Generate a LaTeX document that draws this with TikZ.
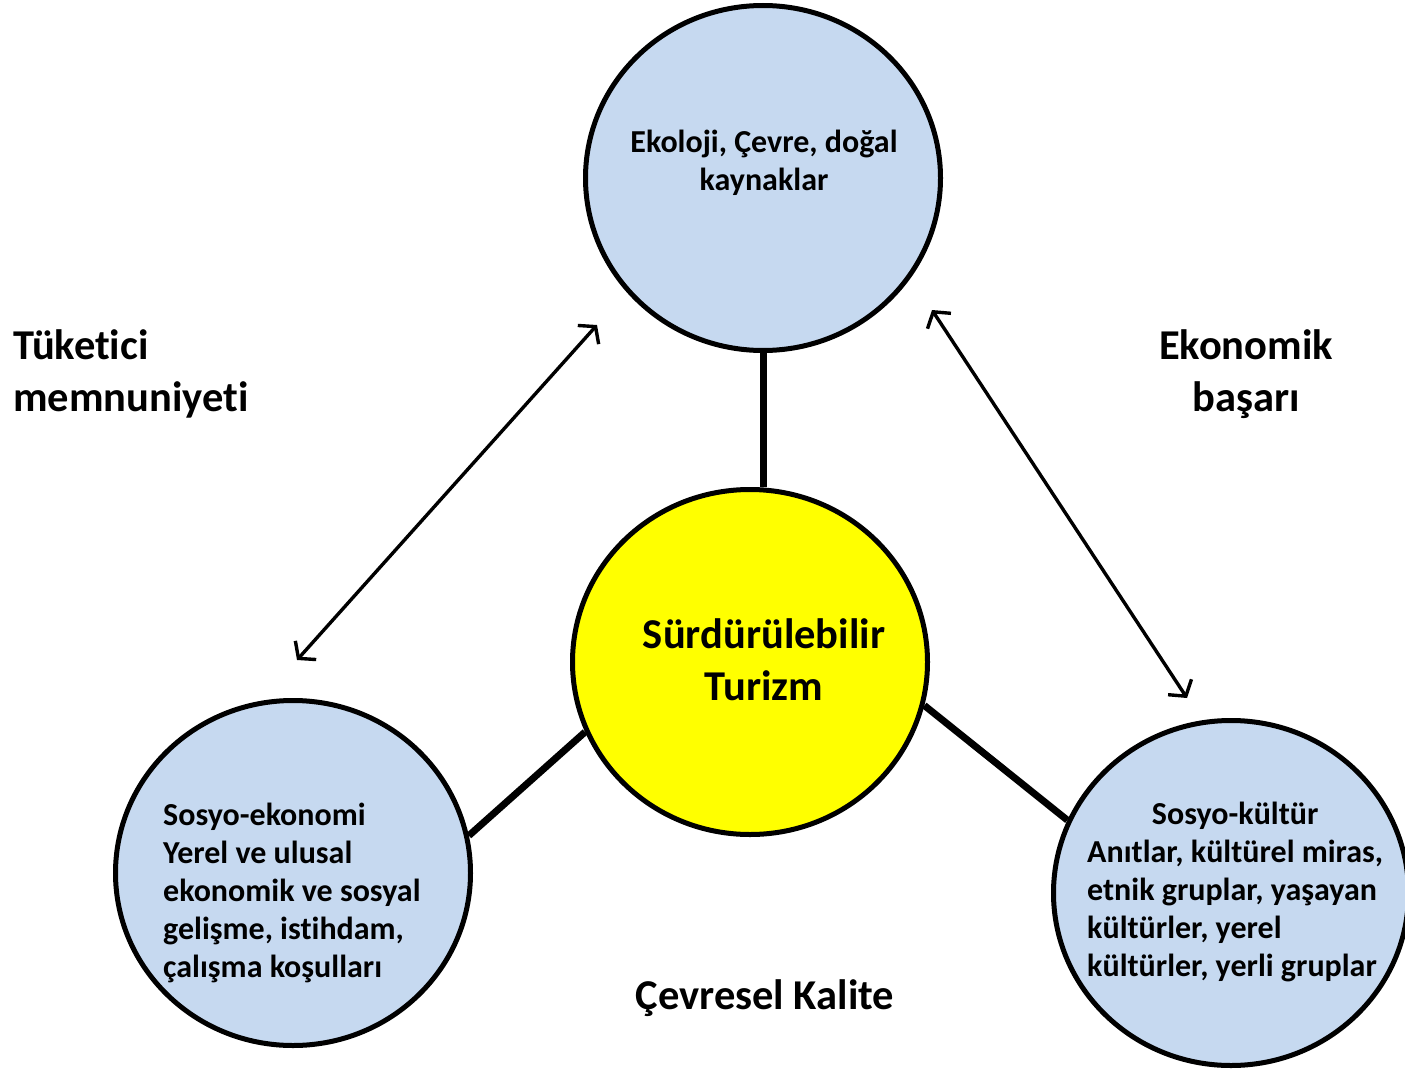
\documentclass[tikz,border=0pt]{standalone}
\usepackage{fontspec}
\setmainfont{Carlito}[Ligatures=NoCommon]
\usetikzlibrary{shapes.geometric,arrows.meta,positioning}
\definecolor{paleblue}{RGB}{198,217,240}
\definecolor{sunyellow}{RGB}{255,255,0}

\tikzset{
  bubble/.style={ellipse, draw, line width=5pt, minimum width=355pt,
    minimum height=345pt, fill=paleblue, inner sep=0pt},
  link/.style={line width=7pt},
  twoway/.style={line width=3.4pt,
    {Straight Barb[length=11pt,width=28pt]}-{Straight Barb[length=11pt,width=28pt]}},
  bubbletext/.style={font=\fontsize{32}{38}\selectfont\bfseries, align=center},
  bigtext/.style={font=\fontsize{42.5}{52}\selectfont\bfseries}
}

\begin{document}
\begin{tikzpicture}[x=1pt, y=-1pt]
  \useasboundingbox (0,0) rectangle (1405,1070);

  % the four circles
  \node[bubble] (eco) at (763,178) {};
  \node[bubble, fill=sunyellow] (sus) at (750,662) {};
  \node[bubble] (soceco) at (293,873) {};
  \node[bubble] (soccul) at (1231,893) {};

  % links to the centre
  \draw[link] (eco.south) -- (eco.south |- sus.north);
  \draw[link] (soceco.12) -- (sus.-157);
  \draw[link] (sus.-14) -- (soccul.156);

  % two-way arrows
  \coordinate (leftlow) at (297,660);
  \coordinate (lefthigh) at (597,325);
  \coordinate (righthigh) at (932,310);
  \coordinate (rightlow) at (1187,698);
  \draw[twoway] (leftlow) -- (lefthigh);
  \draw[twoway] (righthigh) -- (rightlow);

  % texts in the circles
  \node[bubbletext] (ecotext) at (764,163) {Ekoloji, Çevre, doğal\\kaynaklar};
  \node[bigtext, align=center] (sustext) at (764,660) {Sürdürülebilir\\Turizm};
  \node[bubbletext, align=left, anchor=west, inner sep=0pt] (socecotext) at (163,893)
    {Sosyo-ekonomi\\Yerel ve ulusal\\ekonomik ve sosyal\\gelişme, istihdam,\\çalışma koşulları};
  \node[bubbletext, anchor=west, inner sep=0pt] (soccultext) at (1087,893)
    {\begin{tabular}{@{}l@{}}
      \multicolumn{1}{@{}c@{}}{Sosyo-kültür}\\
      Anıtlar, kültürel miras,\\
      etnik gruplar, yaşayan\\
      kültürler, yerel\\
      kültürler, yerli gruplar
    \end{tabular}};

  % outer labels
  \node[bigtext, align=left, anchor=west, inner sep=0pt] (consumer) at (13,374)
    {Tüketici\\memnuniyeti};
  \node[bigtext, align=center] (economic) at (1246,374) {Ekonomik\\başarı};
  \node[bigtext] (environ) at (765,998) {Çevresel Kalite};
\end{tikzpicture}
\end{document}
